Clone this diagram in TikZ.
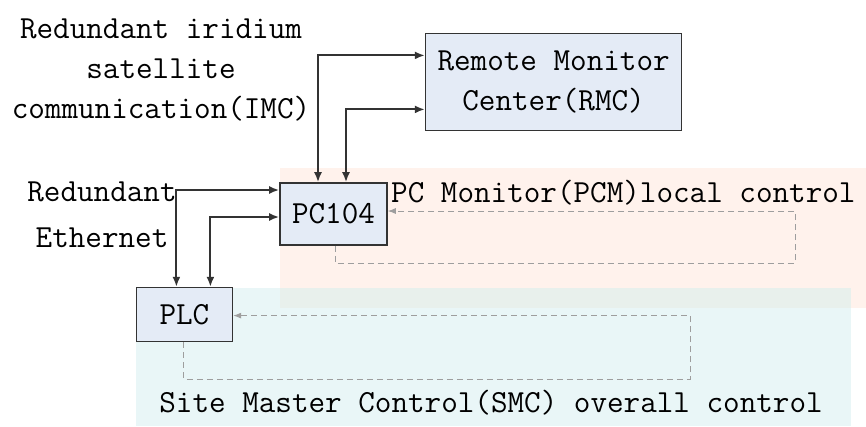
\documentclass[tikz,border=0pt]{standalone}
\usepackage{fontspec}
\usepackage{xcolor}
\usetikzlibrary{positioning, arrows.meta}

\definecolor{boxfill}{RGB}{228,235,246}
\definecolor{pcmback}{RGB}{255,242,236}
\definecolor{smcback}{RGB}{233,246,247}
\definecolor{mixback}{RGB}{232,240,236}

\begin{document}
\begin{tikzpicture}[x=1pt, y=-1pt,
				every node/.style={font=\ttfamily\fontsize{32.2}{40}\selectfont, inner sep=0pt},
				BlockNode/.style={rectangle, draw=black!80, fill=boxfill, line width=1.6pt},
				Link/.style={draw=black!80, line width=1.9pt, {Latex[length=10pt,width=8pt]}-{Latex[length=10pt,width=8pt]}},
				Feedback/.style={draw=black!38, line width=0.9pt, dash pattern=on 6pt off 4pt, -{Latex[length=8pt,width=6pt]}}]

			\useasboundingbox (0,0) rectangle (866,426);

			% Backgrounds
			\fill[pcmback] (280,168) rectangle (866,308);
			\fill[smcback] (136,288) rectangle (851,426);
			\fill[mixback] (280,288) rectangle (851,308);

			% Nodes
			\node[BlockNode, minimum width=107pt, minimum height=62pt] (PC104) at (333.5,214) {PC104};

			\node[BlockNode, minimum width=256pt, minimum height=97pt, align=center] (RMC) [above right=51pt and 37pt of PC104] {Remote Monitor\\Center(RMC)};
			\node[BlockNode, minimum width=96pt, minimum height=54pt] (PLC) [below left=41pt and 46pt of PC104] {PLC};

			\node[align=center] (IMC) at (161,70) {Redundant iridium\\satellite\\communication(IMC)};
			\node[align=center] (Eth) at (102,215) {Redundant\\[6pt]Ethernet};
			\node[anchor=west] (PCM) at (391,193) {PC Monitor(PCM)local control};
			\node (SMC) at (491,403) {Site Master Control(SMC) overall control};

			\coordinate (PCMCorner) at (795,263);
			\coordinate (SMCCorner) at (690,379);

			% Lines
			\draw[Link] ([yshift=26.5pt]RMC.west) -| ([xshift=-15.5pt]PC104.north);
			\draw[Link] ([yshift=-27.5pt]RMC.west) -| ([xshift=12.5pt]PC104.north);
			\draw[Link] ([yshift=24pt]PC104.west) -| ([xshift=-8pt]PLC.north);
			\draw[Link] ([yshift=-3pt]PC104.west) -| ([xshift=26pt]PLC.north);

			\draw[Feedback] ([xshift=1.5pt]PC104.south) |- (PCMCorner) |- ([yshift=3pt]PC104.east);
			\draw[Feedback] ([xshift=-1pt]PLC.south) |- (SMCCorner) |- ([yshift=-1pt]PLC.east);
		\end{tikzpicture}
\end{document}
